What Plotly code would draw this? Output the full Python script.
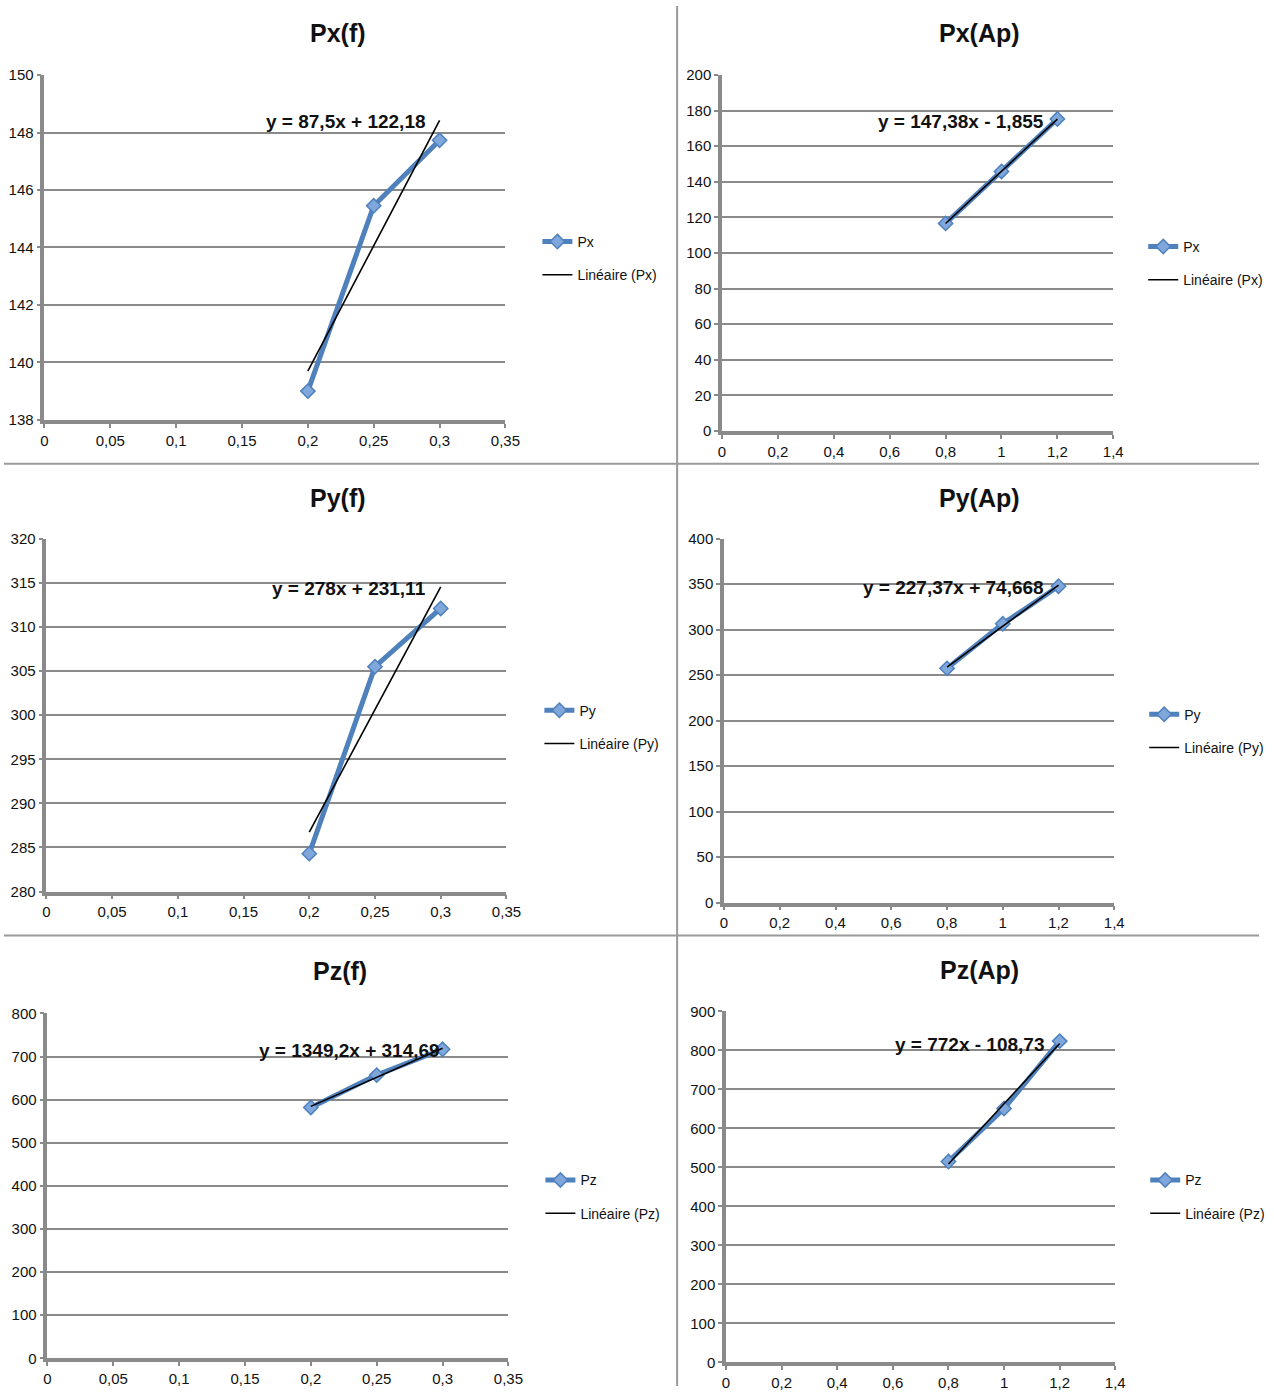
import numpy as np
import plotly.graph_objects as go

W, H = 1274, 1394

# ---------------- data ----------------
f_vals = [0.2, 0.25, 0.3]
ap_vals = [0.8, 1.0, 1.2]

px_f = [139.0, 145.45, 147.73]
px_ap = [116.6, 145.8, 175.3]
py_f = [284.3, 305.5, 312.1]
py_ap = [257.5, 306.5, 347.8]
pz_f = [582.0, 657.0, 717.0]
pz_ap = [515.0, 651.0, 824.0]

titles = ["Px(f)", "Px(Ap)", "Py(f)", "Py(Ap)", "Pz(f)", "Pz(Ap)"]
series_names = ["Px", "Px", "Py", "Py", "Pz", "Pz"]
equations = ["y = 87,5x + 122,18", "y = 147,38x - 1,855", "y = 278x + 231,11",
             "y = 227,37x + 74,668", "y = 1349,2x + 314,69", "y = 772x - 108,73"]

f_ticks = [0, 0.05, 0.1, 0.15, 0.2, 0.25, 0.3, 0.35]
f_ticktext = ["0", "0,05", "0,1", "0,15", "0,2", "0,25", "0,3", "0,35"]
ap_ticks = [0, 0.2, 0.4, 0.6, 0.8, 1.0, 1.2, 1.4]
ap_ticktext = ["0", "0,2", "0,4", "0,6", "0,8", "1", "1,2", "1,4"]

y_ranges = [(138, 150, 2), (0, 200, 20), (280, 320, 5), (0, 400, 50), (0, 800, 100), (0, 900, 100)]

# ---------------- layout geometry (target pixels) ----------------
# (x0, x1, ytop, ybottom)
boxes = [(43, 505, 74, 419), (722, 1114, 74, 430),
         (45, 506, 538, 891), (724, 1115, 538, 902),
         (46, 508, 1013, 1358), (726, 1116, 1011, 1362)]
title_pos = [(337, 32), (980, 32), (337, 497), (980, 497), (339, 970), (980, 969)]
eq_pos = [(345, 120), (961, 120), (348, 588), (954, 587), (349, 1050), (970, 1044)]
legend_pos = [(537, 225), (1144, 230), (539, 694), (1145, 698), (540, 1164), (1146, 1164)]

FONT = "Liberation Sans Narrow, Arial Narrow, Liberation Sans, Arial, sans-serif"
BLUE = "#4F81BD"
MFILL = "#7FA7DC"
GRID = "#8A8A8A"

# calibration of the captured page (observed scale and offset)
SX, OX = 0.987, 2.6
SY, OY = 0.9884, 8.0


def px_x(x):
    return (x / SX - OX) / W


def px_y(y):
    return 1 - (y / SY - OY) / H


xs_all = [f_vals, ap_vals, f_vals, ap_vals, f_vals, ap_vals]
ys_all = [px_f, px_ap, py_f, py_ap, pz_f, pz_ap]

fig = go.Figure()
layout = dict(
    width=W, height=H, margin=dict(l=0, r=0, t=0, b=0),
    paper_bgcolor="white", plot_bgcolor="white",
    font=dict(family=FONT, size=14, color="#111"),
    separators=", ",
    annotations=[], shapes=[],
)

for i in range(6):
    n = i + 1
    xa = "x" if n == 1 else f"x{n}"
    ya = "y" if n == 1 else f"y{n}"
    lg = "legend" if n == 1 else f"legend{n}"
    xs = xs_all[i]
    ys = ys_all[i]
    x0, x1, yt, yb = boxes[i]
    is_f = (i % 2 == 0)

    fig.add_trace(go.Scatter(
        x=xs, y=ys, mode="lines+markers", name=series_names[i],
        xaxis=xa, yaxis=ya, legend=lg, legendgroup=f"s{n}",
        line=dict(color=BLUE, width=5),
        marker=dict(symbol="diamond", size=11, color=MFILL, line=dict(color=BLUE, width=1.5)),
        cliponaxis=False,
    ))
    coef = np.polyfit(xs, ys, 1)
    tx = [min(xs), max(xs)]
    ty = [coef[0] * v + coef[1] for v in tx]
    fig.add_trace(go.Scatter(
        x=tx, y=ty, mode="lines", name=f"Linéaire ({series_names[i]})",
        xaxis=xa, yaxis=ya, legend=lg, legendgroup=f"t{n}",
        line=dict(color="black", width=1.6),
        cliponaxis=False,
    ))

    ymin, ymax, dy = y_ranges[i]
    layout["xaxis" if n == 1 else f"xaxis{n}"] = dict(
        domain=[px_x(x0), px_x(x1)], anchor=ya,
        range=[0, 0.35] if is_f else [0, 1.4],
        tickvals=f_ticks if is_f else ap_ticks,
        ticktext=f_ticktext if is_f else ap_ticktext,
        showgrid=False, zeroline=False,
        showline=True, linecolor=GRID, linewidth=3.5,
        ticks="outside", ticklen=4, tickwidth=2, tickcolor=GRID,
        tickfont=dict(family=FONT, size=15, color="#111"),
    )
    layout["yaxis" if n == 1 else f"yaxis{n}"] = dict(
        domain=[px_y(yb), px_y(yt)], anchor=xa,
        range=[ymin, ymax], dtick=dy, tick0=ymin,
        showgrid=True, gridcolor=GRID, gridwidth=2,
        zeroline=False,
        showline=True, linecolor=GRID, linewidth=3.5,
        ticks="outside", ticklen=4, tickwidth=2, tickcolor=GRID,
        tickfont=dict(family=FONT, size=15, color="#111"),
    )
    lx, ly = legend_pos[i]
    layout[lg] = dict(
        x=px_x(lx), y=px_y(ly), xanchor="left", yanchor="top",
        bgcolor="rgba(0,0,0,0)", font=dict(family=FONT, size=14, color="#111"),
        traceorder="grouped", tracegroupgap=12, itemwidth=30,
    )
    tx_, ty_ = title_pos[i]
    layout["annotations"].append(dict(
        x=px_x(tx_), y=px_y(ty_), xref="paper", yref="paper", showarrow=False,
        text=f"<b>{titles[i]}</b>", font=dict(family=FONT, size=25, color="#111"),
        xanchor="center", yanchor="middle"))
    ex, ey = eq_pos[i]
    layout["annotations"].append(dict(
        x=px_x(ex), y=px_y(ey), xref="paper", yref="paper", showarrow=False,
        text=f"<b>{equations[i]}</b>", font=dict(family=FONT, size=19, color="#111"),
        xanchor="center", yanchor="middle"))

# panel separator lines
SEP = "#9A9A9A"
layout["shapes"] = [
    dict(type="line", xref="paper", yref="paper", x0=px_x(677), x1=px_x(677), y0=0, y1=px_y(5),
         line=dict(color=SEP, width=2)),
    dict(type="line", xref="paper", yref="paper", x0=0, x1=1, y0=px_y(463), y1=px_y(463),
         line=dict(color=SEP, width=2)),
    dict(type="line", xref="paper", yref="paper", x0=0, x1=1, y0=px_y(935), y1=px_y(935),
         line=dict(color=SEP, width=2)),
]

fig.update_layout(**layout)
fig.write_html(
    "out.html",
    config={"displayModeBar": False},
    post_script="document.body.style.margin='0';document.body.style.padding='0';"
                "document.documentElement.style.overflow='hidden';",
)
